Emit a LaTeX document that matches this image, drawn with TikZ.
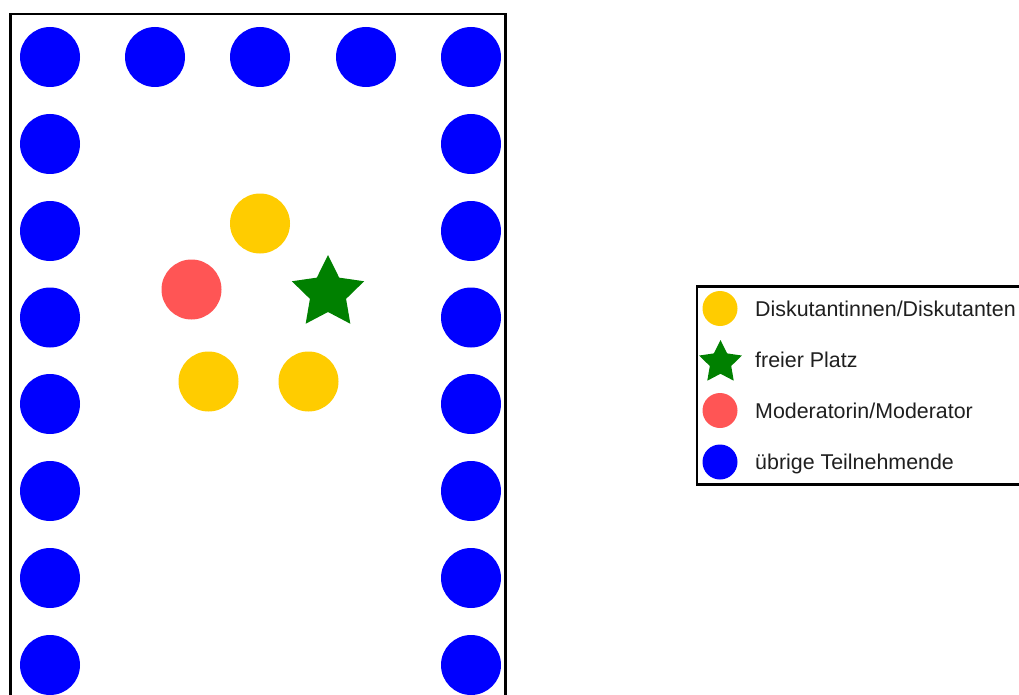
\documentclass[tikz,border=0pt]{standalone}
\usepackage{fontspec}
\setmainfont{Liberation Sans}
\usetikzlibrary{shapes.geometric}
\definecolor{seatblue}{HTML}{0000FF}
\definecolor{seatyellow}{HTML}{FFCC00}
\definecolor{seatred}{HTML}{FF5555}
\definecolor{seatgreen}{HTML}{008000}
\tikzset{
  seat/.style={circle, inner sep=0pt, minimum size=60pt, draw=none},
  other/.style={seat, fill=seatblue},
  disc/.style={seat, fill=seatyellow},
  moder/.style={seat, fill=seatred},
  freeseat/.style={star, star points=5, star point ratio=2, inner sep=0pt, minimum size=76pt, fill=seatgreen, draw=none},
  legcircle/.style={circle, inner sep=0pt, minimum size=35pt, draw=none},
  legstar/.style={star, star points=5, star point ratio=2, inner sep=0pt, minimum size=45pt, fill=seatgreen, draw=none},
  legtext/.style={anchor=base west, inner sep=0pt, font=\fontsize{21.4}{25}\selectfont, text=black!88},
  frame/.style={draw=black, line width=2.6pt},
}
\begin{document}
\begin{tikzpicture}[x=1pt,y=-1pt]
\useasboundingbox (0,0) rectangle (1019,695);
\clip (0,0) rectangle (1019,695);
% room frame
\draw[frame] (10.5,14) rectangle (505.5,720);
% top row
\node[other] (t1) at (50,57) {};
\node[other] (t2) at (155,57) {};
\node[other] (t3) at (260,57) {};
\node[other] (t4) at (366,57) {};
\node[other] (t5) at (471,57) {};
% left column
\node[other] (l2) at (50,144) {};
\node[other] (l3) at (50,231) {};
\node[other] (l4) at (50,317.5) {};
\node[other] (l5) at (50,404) {};
\node[other] (l6) at (50,491) {};
\node[other] (l7) at (50,578) {};
\node[other] (l8) at (50,665) {};
% right column
\node[other] (r2) at (471,144) {};
\node[other] (r3) at (471,231) {};
\node[other] (r4) at (471,317.5) {};
\node[other] (r5) at (471,404) {};
\node[other] (r6) at (471,491) {};
\node[other] (r7) at (471,578) {};
\node[other] (r8) at (471,665) {};
% inner group
\node[disc] (d1) at (260,223.5) {};
\node[moder] (m) at (191.5,289.5) {};
\node[freeseat] (f) at (328,293) {};
\node[disc] (d2) at (208.5,381.5) {};
\node[disc] (d3) at (308.5,381.5) {};
% legend
\draw[frame] (697,286.5) rectangle (1030,484.5);
\node[legcircle, fill=seatyellow] (ly) at (720,308.5) {};
\node[legstar] (ls) at (720.5,362.5) {};
\node[legcircle, fill=seatred] (lr) at (720,410.5) {};
\node[legcircle, fill=seatblue] (lb) at (720,462) {};
\node[legtext] (ty) at (755,316) {Diskutantinnen/Diskutanten};
\node[legtext] (ts) at (755,367.5) {freier Platz};
\node[legtext] (tr) at (755,418) {Moderatorin/Moderator};
\node[legtext] (tb) at (755,469.5) {übrige Teilnehmende};
\end{tikzpicture}
\end{document}
